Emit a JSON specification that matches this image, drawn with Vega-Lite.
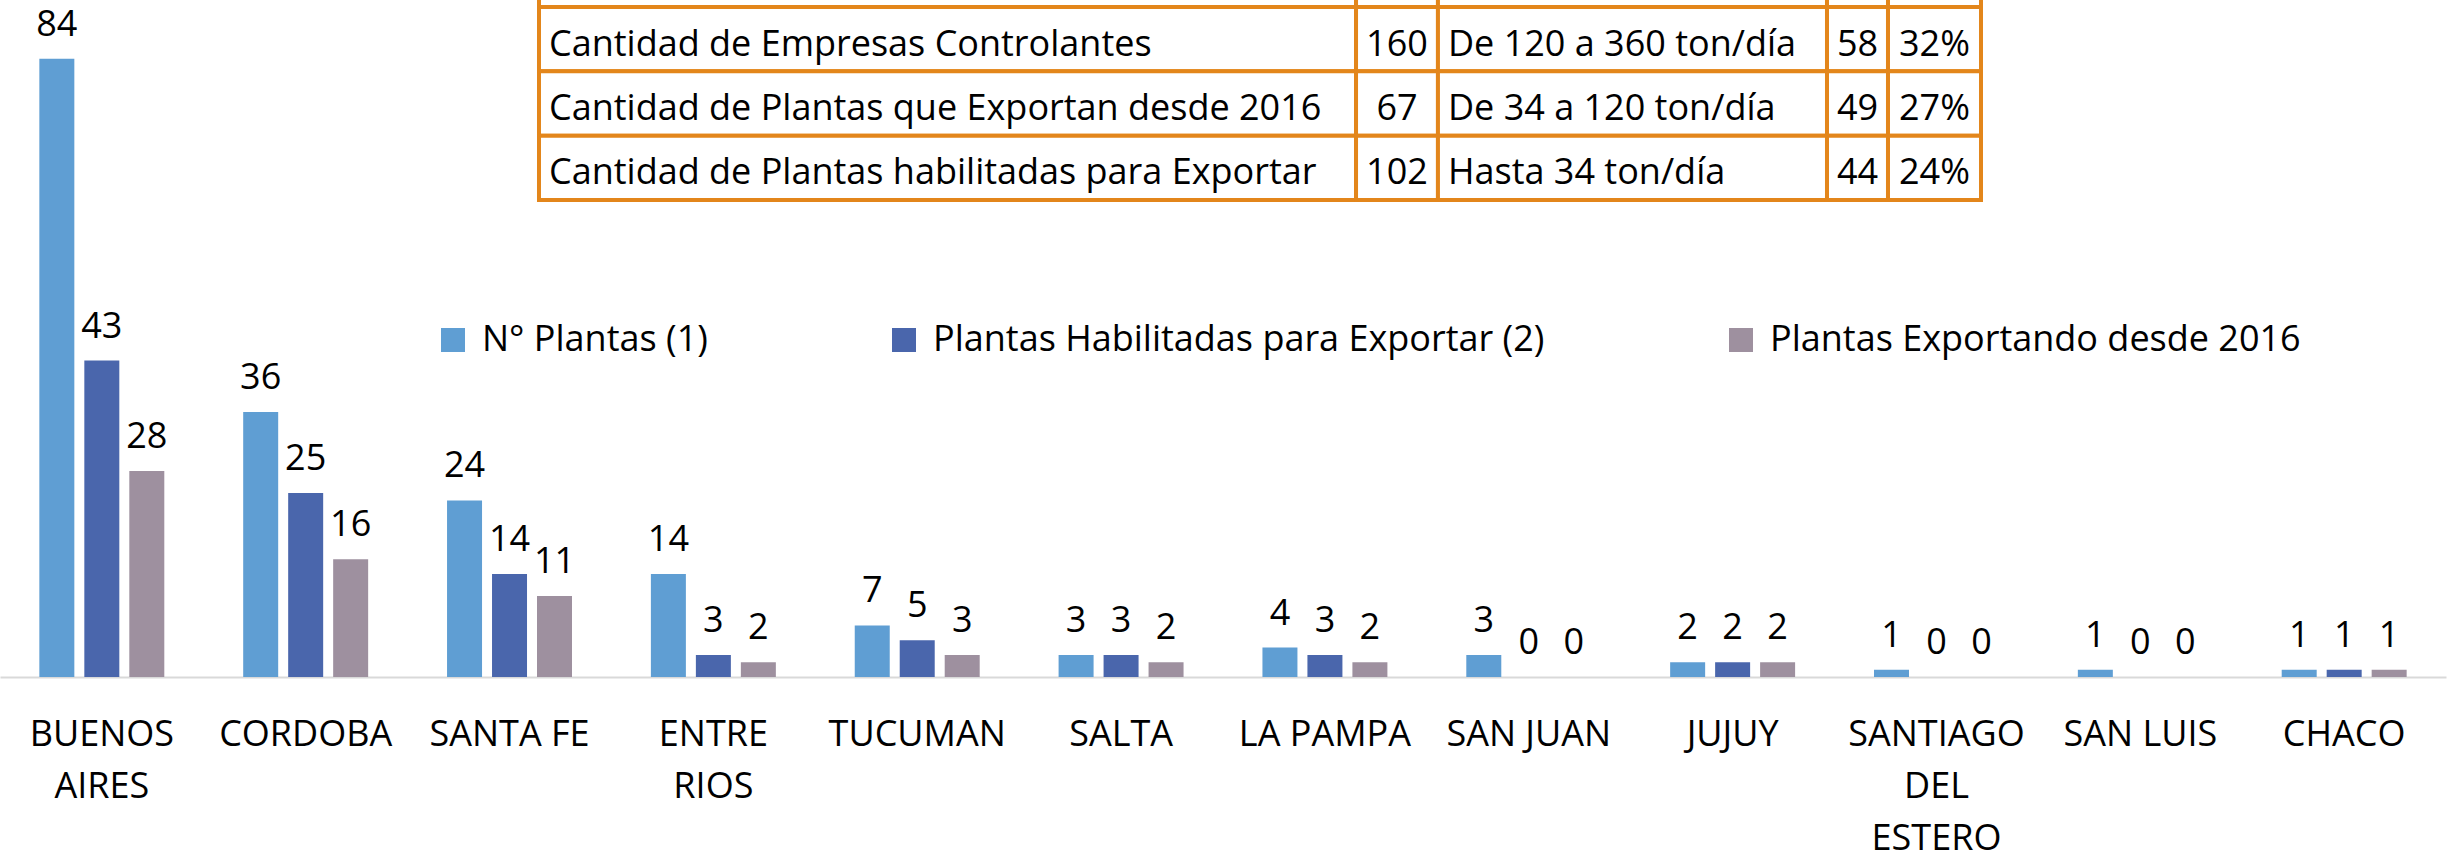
{
  "$schema": "https://vega.github.io/schema/vega-lite/v6.json",
  "autosize": "none",
  "width": 2446,
  "height": 677,
  "padding": {"left": 0, "top": 0, "right": 9, "bottom": 177},
  "config": {
    "view": {"stroke": null},
    "font": "Open Sans",
    "text": {"font": "Open Sans"}
  },
  "resolve": {"scale": {"x": "independent", "y": "independent"}, "axis": {"x": "independent", "y": "independent"}},
  "layer": [
    {
      "data": {
        "values": [
          {"provincia": "BUENOS AIRES", "serie": "N° Plantas (1)", "valor": 84},
          {"provincia": "BUENOS AIRES", "serie": "Plantas Habilitadas para Exportar (2)", "valor": 43},
          {"provincia": "BUENOS AIRES", "serie": "Plantas Exportando desde 2016", "valor": 28},
          {"provincia": "CORDOBA", "serie": "N° Plantas (1)", "valor": 36},
          {"provincia": "CORDOBA", "serie": "Plantas Habilitadas para Exportar (2)", "valor": 25},
          {"provincia": "CORDOBA", "serie": "Plantas Exportando desde 2016", "valor": 16},
          {"provincia": "SANTA FE", "serie": "N° Plantas (1)", "valor": 24},
          {"provincia": "SANTA FE", "serie": "Plantas Habilitadas para Exportar (2)", "valor": 14},
          {"provincia": "SANTA FE", "serie": "Plantas Exportando desde 2016", "valor": 11},
          {"provincia": "ENTRE RIOS", "serie": "N° Plantas (1)", "valor": 14},
          {"provincia": "ENTRE RIOS", "serie": "Plantas Habilitadas para Exportar (2)", "valor": 3},
          {"provincia": "ENTRE RIOS", "serie": "Plantas Exportando desde 2016", "valor": 2},
          {"provincia": "TUCUMAN", "serie": "N° Plantas (1)", "valor": 7},
          {"provincia": "TUCUMAN", "serie": "Plantas Habilitadas para Exportar (2)", "valor": 5},
          {"provincia": "TUCUMAN", "serie": "Plantas Exportando desde 2016", "valor": 3},
          {"provincia": "SALTA", "serie": "N° Plantas (1)", "valor": 3},
          {"provincia": "SALTA", "serie": "Plantas Habilitadas para Exportar (2)", "valor": 3},
          {"provincia": "SALTA", "serie": "Plantas Exportando desde 2016", "valor": 2},
          {"provincia": "LA PAMPA", "serie": "N° Plantas (1)", "valor": 4},
          {"provincia": "LA PAMPA", "serie": "Plantas Habilitadas para Exportar (2)", "valor": 3},
          {"provincia": "LA PAMPA", "serie": "Plantas Exportando desde 2016", "valor": 2},
          {"provincia": "SAN JUAN", "serie": "N° Plantas (1)", "valor": 3},
          {"provincia": "SAN JUAN", "serie": "Plantas Habilitadas para Exportar (2)", "valor": 0},
          {"provincia": "SAN JUAN", "serie": "Plantas Exportando desde 2016", "valor": 0},
          {"provincia": "JUJUY", "serie": "N° Plantas (1)", "valor": 2},
          {"provincia": "JUJUY", "serie": "Plantas Habilitadas para Exportar (2)", "valor": 2},
          {"provincia": "JUJUY", "serie": "Plantas Exportando desde 2016", "valor": 2},
          {"provincia": "SANTIAGO DEL ESTERO", "serie": "N° Plantas (1)", "valor": 1},
          {"provincia": "SANTIAGO DEL ESTERO", "serie": "Plantas Habilitadas para Exportar (2)", "valor": 0},
          {"provincia": "SANTIAGO DEL ESTERO", "serie": "Plantas Exportando desde 2016", "valor": 0},
          {"provincia": "SAN LUIS", "serie": "N° Plantas (1)", "valor": 1},
          {"provincia": "SAN LUIS", "serie": "Plantas Habilitadas para Exportar (2)", "valor": 0},
          {"provincia": "SAN LUIS", "serie": "Plantas Exportando desde 2016", "valor": 0},
          {"provincia": "CHACO", "serie": "N° Plantas (1)", "valor": 1},
          {"provincia": "CHACO", "serie": "Plantas Habilitadas para Exportar (2)", "valor": 1},
          {"provincia": "CHACO", "serie": "Plantas Exportando desde 2016", "valor": 1}
        ]
      },
      "encoding": {
        "x": {
          "field": "provincia", "type": "nominal", "sort": null,
          "scale": {"type": "band", "paddingInner": 0.387, "paddingOuter": 0.193},
          "axis": {
            "title": null, "ticks": false, "labelAngle": 0, "labelFontSize": 36, "labelColor": "#000000",
            "labelFont": "Open Sans", "labelPadding": 40, "labelLineHeight": 52, "labelLimit": 1000,
            "labelOverlap": false, "domainColor": "#D9D9D9", "domainWidth": 2,
            "labelExpr": "datum.value == 'BUENOS AIRES' ? ['BUENOS','AIRES'] : datum.value == 'ENTRE RIOS' ? ['ENTRE','RIOS'] : datum.value == 'SANTIAGO DEL ESTERO' ? ['SANTIAGO','DEL','ESTERO'] : datum.value"
          }
        },
        "xOffset": {
          "field": "serie", "type": "nominal", "sort": null,
          "scale": {"paddingInner": 0.222, "paddingOuter": 0}
        },
        "y": {
          "field": "valor", "type": "quantitative",
          "scale": {"domain": [0, 92], "nice": false, "zero": true},
          "axis": null
        }
      },
      "layer": [
        {
          "mark": {"type": "bar"},
          "encoding": {
            "color": {
              "field": "serie", "type": "nominal", "sort": null,
              "scale": {
                "domain": ["N° Plantas (1)", "Plantas Habilitadas para Exportar (2)", "Plantas Exportando desde 2016"],
                "range": ["#5F9ED3", "#4A66AC", "#9E909F"]
              },
              "legend": {
                "orient": "none", "legendX": 435, "legendY": 322, "direction": "horizontal",
                "title": null, "symbolType": "square", "symbolSize": 576, "symbolStrokeWidth": 0,
                "labelFontSize": 36, "labelFont": "Open Sans", "labelColor": "#000000",
                "labelOffset": 11, "columnPadding": 178, "labelLimit": 1000
              }
            }
          }
        },
        {
          "mark": {"type": "text", "baseline": "alphabetic", "dy": -23, "fontSize": 36, "color": "#000000"},
          "encoding": {"text": {"field": "valor", "type": "quantitative"}}
        }
      ]
    },
    {
      "data": {
        "values": [
          {"fila": "r0", "col": 0, "texto": "", "desde": 0, "hasta": 56.66},
          {"fila": "r0", "col": 1, "texto": "", "desde": 56.66, "hasta": 62.34},
          {"fila": "r0", "col": 2, "texto": "", "desde": 62.34, "hasta": 89.32},
          {"fila": "r0", "col": 3, "texto": "", "desde": 89.32, "hasta": 93.55},
          {"fila": "r0", "col": 4, "texto": "", "desde": 93.55, "hasta": 100},
          {"fila": "r1", "col": 0, "texto": "Cantidad de Empresas Controlantes", "desde": 0, "hasta": 56.66},
          {"fila": "r1", "col": 1, "texto": "160", "desde": 56.66, "hasta": 62.34},
          {"fila": "r1", "col": 2, "texto": "De 120 a 360 ton/día", "desde": 62.34, "hasta": 89.32},
          {"fila": "r1", "col": 3, "texto": "58", "desde": 89.32, "hasta": 93.55},
          {"fila": "r1", "col": 4, "texto": "32%", "desde": 93.55, "hasta": 100},
          {"fila": "r2", "col": 0, "texto": "Cantidad de Plantas que Exportan desde 2016", "desde": 0, "hasta": 56.66},
          {"fila": "r2", "col": 1, "texto": "67", "desde": 56.66, "hasta": 62.34},
          {"fila": "r2", "col": 2, "texto": "De 34 a 120 ton/día", "desde": 62.34, "hasta": 89.32},
          {"fila": "r2", "col": 3, "texto": "49", "desde": 89.32, "hasta": 93.55},
          {"fila": "r2", "col": 4, "texto": "27%", "desde": 93.55, "hasta": 100},
          {"fila": "r3", "col": 0, "texto": "Cantidad de Plantas habilitadas para Exportar", "desde": 0, "hasta": 56.66},
          {"fila": "r3", "col": 1, "texto": "102", "desde": 56.66, "hasta": 62.34},
          {"fila": "r3", "col": 2, "texto": "Hasta 34 ton/día", "desde": 62.34, "hasta": 89.32},
          {"fila": "r3", "col": 3, "texto": "44", "desde": 89.32, "hasta": 93.55},
          {"fila": "r3", "col": 4, "texto": "24%", "desde": 93.55, "hasta": 100}
        ]
      },
      "encoding": {
        "y": {
          "field": "fila", "type": "nominal", "sort": null,
          "scale": {"type": "band", "domain": ["r0", "r1", "r2", "r3"], "range": [-57.3, 200], "paddingInner": 0, "paddingOuter": 0},
          "axis": null
        }
      },
      "layer": [
        {
          "mark": {"type": "rect", "fill": "#FFFFFF", "stroke": "#E3861B", "strokeWidth": 4},
          "encoding": {
            "x": {"field": "desde", "type": "quantitative", "scale": {"domain": [0, 100], "range": [539, 1981], "nice": false, "zero": false}, "axis": null},
            "x2": {"field": "hasta"}
          }
        },
        {
          "transform": [{"filter": "datum.col == 0 || datum.col == 2"}],
          "mark": {"type": "text", "align": "left", "baseline": "alphabetic", "dy": 16.5, "dx": 10, "fontSize": 36, "color": "#000000"},
          "encoding": {
            "x": {"field": "desde", "type": "quantitative", "scale": {"domain": [0, 100], "range": [539, 1981], "nice": false, "zero": false}, "axis": null},
            "text": {"field": "texto", "type": "nominal"}
          }
        },
        {
          "transform": [
            {"filter": "datum.col == 1 || datum.col == 3 || datum.col == 4"},
            {"calculate": "(datum.desde + datum.hasta) / 2", "as": "centro"}
          ],
          "mark": {"type": "text", "align": "center", "baseline": "alphabetic", "dy": 16.5, "fontSize": 36, "color": "#000000"},
          "encoding": {
            "x": {"field": "centro", "type": "quantitative", "scale": {"domain": [0, 100], "range": [539, 1981], "nice": false, "zero": false}, "axis": null},
            "text": {"field": "texto", "type": "nominal"}
          }
        }
      ]
    }
  ]
}
